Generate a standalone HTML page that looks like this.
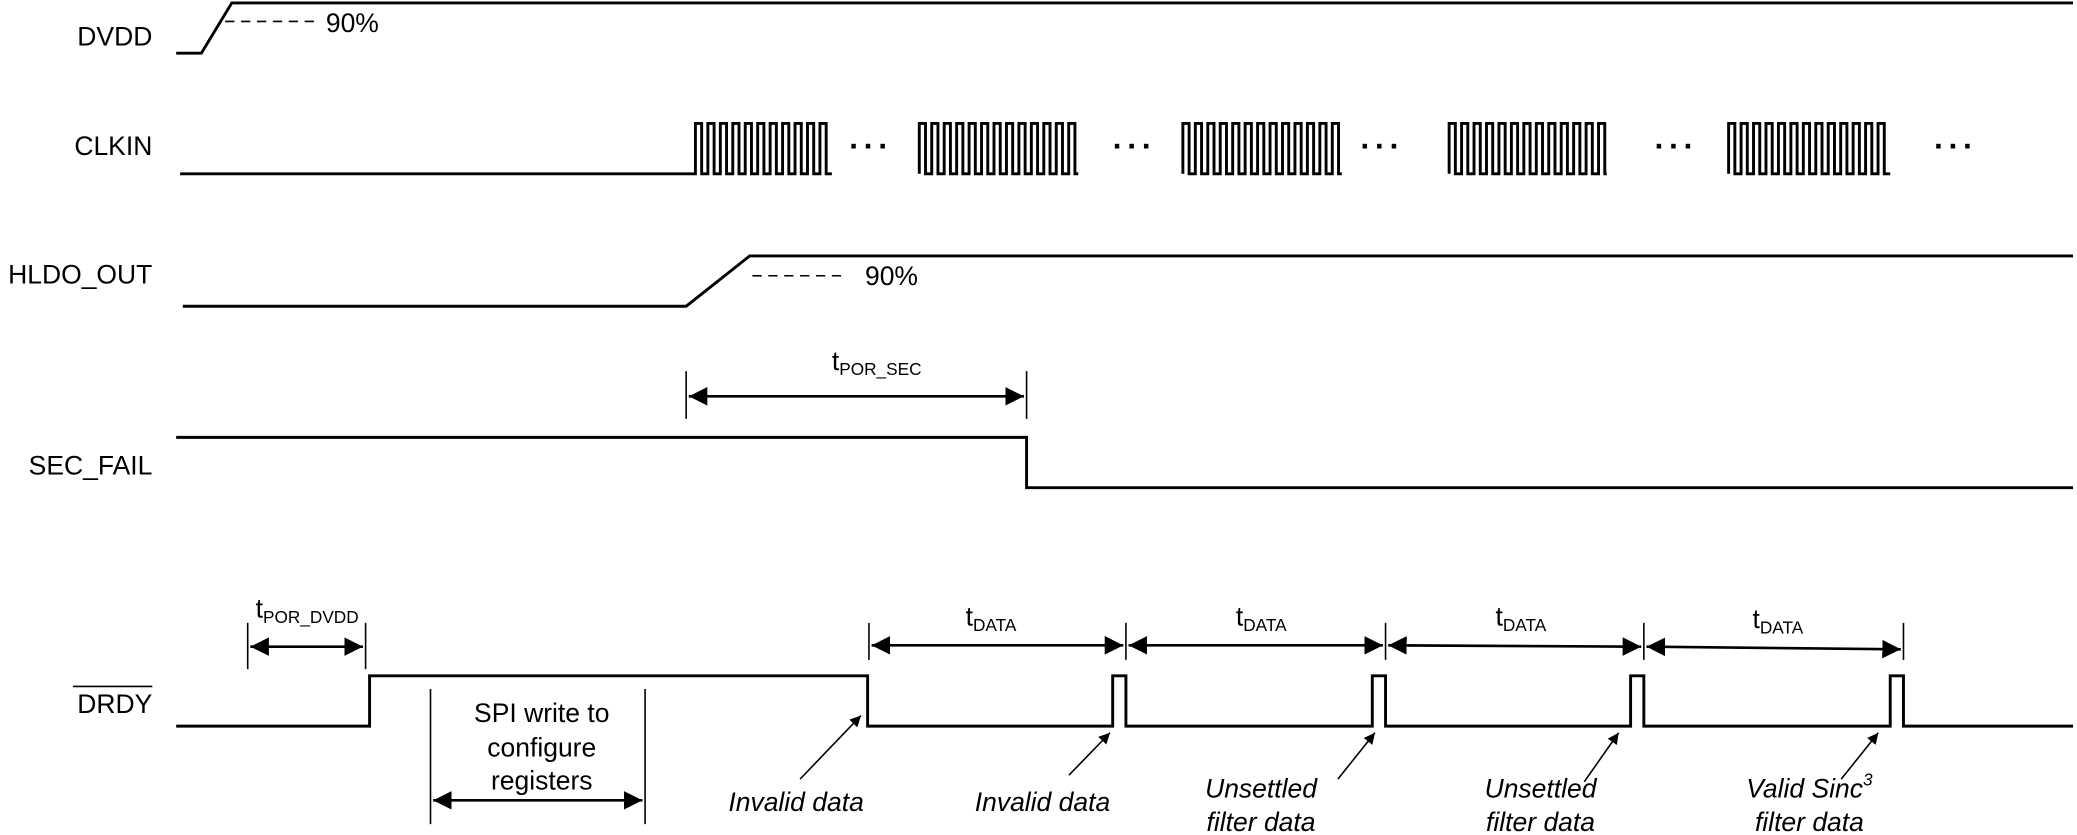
<!DOCTYPE html>
<html><head><meta charset="utf-8"><style>
html,body{margin:0;padding:0;background:#fff;}
svg{display:block;}
text{font-family:"Liberation Sans",Arial,sans-serif;fill:#000;}
.it{font-family:"Liberation Sans Narrow","Liberation Sans",sans-serif;font-style:italic;font-size:20px;}
</style></head><body>
<svg id="s" width="2077" height="835" viewBox="0 0 1568 630" xmlns="http://www.w3.org/2000/svg">
<defs>
<marker id="a" viewBox="0 0 10 10" refX="10" refY="5" markerWidth="7" markerHeight="7" orient="auto-start-reverse"><path d="M0,0 L10,5 L0,10 z" fill="#000"/></marker>
</defs>
<g fill="none" stroke="#000" stroke-width="2.2">
<!-- DVDD -->
<path d="M133,40 H152 L175,2 H1565"/>
<!-- HLDO -->
<path d="M138,231 H518 L566,193 H1565"/>
<!-- SEC_FAIL -->
<path d="M133,330 H775 V368 H1565"/>
<!-- DRDY -->
<path d="M133,548 H279 V510 H655 V548 H840 V510 H850 V548 H1036 V510 H1046 V548 H1231 V510 H1241 V548 H1427 V510 H1437 V548 H1565"/>
<path id="clk" d=""/>
</g>
<g stroke="#000" stroke-width="1.2" fill="none">
<path d="M170,16 H240" stroke-dasharray="7,5"/>
<path d="M568,208 H640" stroke-dasharray="7,5"/>
<path d="M518,280 V316 M775,280 V316"/>
<path d="M187,470 V505 M276,470 V505"/>
<path d="M325,520 V622 M487,520 V622"/>
<path d="M656,470 V498 M850,470 V498 M1046,470 V498 M1241,470 V498 M1437,470 V498"/>
</g>
<g stroke="#000" stroke-width="2" fill="none">
<line x1="520" y1="299" x2="773" y2="299" marker-start="url(#a)" marker-end="url(#a)"/>
<line x1="189" y1="488" x2="274" y2="488" marker-start="url(#a)" marker-end="url(#a)"/>
<line x1="327" y1="604" x2="485" y2="604" marker-start="url(#a)" marker-end="url(#a)"/>
<line x1="658" y1="487" x2="848" y2="487" marker-start="url(#a)" marker-end="url(#a)"/>
<line x1="852" y1="487" x2="1044" y2="487" marker-start="url(#a)" marker-end="url(#a)"/>
<line x1="1048" y1="487" x2="1239" y2="488" marker-start="url(#a)" marker-end="url(#a)"/>
<line x1="1243" y1="488" x2="1435" y2="490" marker-start="url(#a)" marker-end="url(#a)"/>
</g>
<g stroke="#000" stroke-width="1.2" fill="none">
<line x1="604" y1="588" x2="650" y2="540" marker-end="url(#a)"/>
<line x1="807" y1="585" x2="838" y2="553" marker-end="url(#a)"/>
<line x1="1010" y1="588" x2="1038" y2="553" marker-end="url(#a)"/>
<line x1="1196" y1="590" x2="1222" y2="553" marker-end="url(#a)"/>
<line x1="1390" y1="588" x2="1418" y2="553" marker-end="url(#a)"/>
</g>
<g font-size="20" text-anchor="end">
<text x="115" y="34">DVDD</text>
<text x="115" y="117">CLKIN</text>
<text x="115" y="214">HLDO_OUT</text>
<text x="115" y="358">SEC_FAIL</text>
<text x="115" y="538">DRDY</text>
</g>
<line x1="55" y1="518" x2="115" y2="518" stroke="#000" stroke-width="1.2"/>
<g font-size="20">
<text x="246" y="24">90%</text>
<text x="653" y="215">90%</text>
<text x="628" y="279">t<tspan font-size="13" dy="4">POR_SEC</tspan></text>
<text x="193" y="466">t<tspan font-size="13" dy="4">POR_DVDD</tspan></text>
<text x="729" y="472">t<tspan font-size="13" dy="4">DATA</tspan></text>
<text x="933" y="472">t<tspan font-size="13" dy="4">DATA</tspan></text>
<text x="1129" y="472">t<tspan font-size="13" dy="4">DATA</tspan></text>
<text x="1323" y="474">t<tspan font-size="13" dy="4">DATA</tspan></text>
</g>
<g font-size="20" text-anchor="middle">
<text x="409" y="545">SPI write to</text>
<text x="409" y="571">configure</text>
<text x="409" y="596">registers</text>
</g>
<g class="it" text-anchor="middle">
<text x="601" y="612">Invalid data</text>
<text x="787" y="612">Invalid data</text>
<text x="952" y="602">Unsettled</text>
<text x="952" y="627">filter data</text>
<text x="1163" y="602">Unsettled</text>
<text x="1163" y="627">filter data</text>
<text x="1366" y="602">Valid Sinc<tspan font-size="13" dy="-9">3</tspan></text>
<text x="1366" y="627">filter data</text>
</g>
<g font-size="24" font-weight="bold" letter-spacing="3">
<text x="641" y="118">···</text>
<text x="840" y="118">···</text>
<text x="1027" y="118">···</text>
<text x="1249" y="118">···</text>
<text x="1460" y="118">···</text>
</g>
</svg>
<script>
(function(){
var bursts=[[525,628,true],[694,814,false],[893,1013,false],[1094,1213,false],[1305,1427,false]];
var d="M136,131 ";var hi=93,lo=131;
bursts.forEach(function(b,i){
 var x=b[0],end=b[1]-5;
 if(i>0)d+="M"+x+","+lo+" ";else d+="H"+x+" ";
 var p=9.4;
 while(x+p<=end+1){d+="V"+hi+" H"+(x+p/2).toFixed(1)+" V"+lo+" H"+(x+p).toFixed(1)+" ";x+=p;}
 d+="V"+hi+" H"+(x+p/2).toFixed(1)+" V"+lo+" H"+b[1]+" ";
});
document.getElementById("clk").setAttribute("d",d);
})();
</script>
</body></html>
